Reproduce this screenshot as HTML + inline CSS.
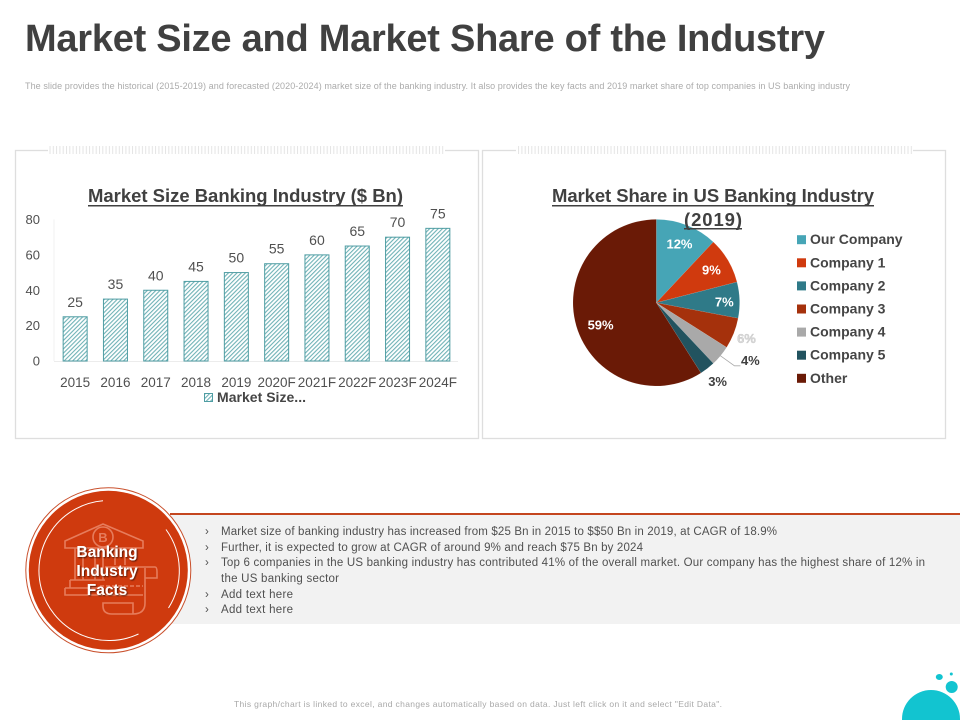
<!DOCTYPE html>
<html lang="en">
<head>
<meta charset="utf-8">
<title>Market Size and Market Share of the Industry</title>
<style>
html,body{margin:0;padding:0;background:#fff;width:960px;height:720px;overflow:hidden}
svg{display:block;position:absolute;left:0;top:0}
text{font-family:"Liberation Sans",sans-serif}
</style>
</head>
<body>
<svg id="slide" xmlns="http://www.w3.org/2000/svg" width="960" height="720" viewBox="0 0 960 720">
<defs>
<pattern id="hatch" patternUnits="userSpaceOnUse" width="3" height="3" patternTransform="rotate(-45)">
<rect width="3" height="3" fill="#fff"/>
<rect width="3" height="1.1" fill="#6fb2b6"/>
</pattern>
<pattern id="ticks" patternUnits="userSpaceOnUse" width="3.3" height="8">
<rect width="1" height="8" fill="#e4e4e4"/>
</pattern>
<filter id="shadow" x="-20%" y="-20%" width="140%" height="140%">
<feDropShadow dx="1" dy="1" stdDeviation="0.8" flood-color="#000" flood-opacity="0.6"/>
</filter>
</defs>

<text x="25" y="51" font-size="38" font-weight="700" fill="#404040" textLength="800">Market Size and Market Share of the Industry</text>
<text x="25" y="89" font-size="9" fill="#ababab" textLength="825">The slide provides the historical (2015-2019) and forecasted (2020-2024) market size of the banking industry. It also provides the key facts and 2019 market share of top companies in US banking industry</text>

<g>
<rect x="15.5" y="150.5" width="463" height="288" fill="#fff" stroke="#dedede" stroke-width="1.3"/>
<rect x="48" y="146" width="397" height="8" fill="#fff"/>
<rect x="48" y="146" width="397" height="8" fill="url(#ticks)"/>
</g>
<g>
<rect x="482.5" y="150.5" width="463" height="288" fill="#fff" stroke="#dedede" stroke-width="1.3"/>
<rect x="516" y="146" width="397" height="8" fill="#fff"/>
<rect x="516" y="146" width="397" height="8" fill="url(#ticks)"/>
</g>

<g id="bar-chart">
<text x="88" y="202" font-size="18.5" font-weight="700" fill="#404040" textLength="315">Market Size Banking Industry ($ Bn)</text>
<rect x="88" y="205" width="315" height="1.5" fill="#404040"/>
</g>

<g id="pie-chart"></g>
<g>
<text x="552" y="202" font-size="18.5" font-weight="700" fill="#404040" textLength="322">Market Share in US Banking Industry</text>
<rect x="552" y="205" width="322" height="1.5" fill="#404040"/>
<text x="684" y="226" font-size="18.5" font-weight="700" fill="#404040" textLength="58">(2019)</text>
<rect x="684" y="228" width="58" height="1.5" fill="#404040"/>
</g>

<g>
<rect x="170" y="515" width="790" height="109" fill="#f2f2f2"/>
<rect x="170" y="513" width="790" height="2" fill="#c4461f"/>
<g font-size="11.5" fill="#505050">
<text x="205" y="535">›</text>
<text x="221" y="535" textLength="556">Market size of banking industry has increased from $25 Bn in 2015 to $$50 Bn in 2019, at CAGR of 18.9%</text>
<text x="205" y="551">›</text>
<text x="221" y="551" textLength="422">Further, it is expected to grow at CAGR of around 9% and reach $75 Bn by 2024</text>
<text x="205" y="566">›</text>
<text x="221" y="566" textLength="704">Top 6 companies in the US banking industry has contributed 41% of the overall market. Our company has the highest share of 12% in</text>
<text x="221" y="582" textLength="118">the US banking sector</text>
<text x="205" y="598">›</text>
<text x="221" y="598" textLength="72">Add text here</text>
<text x="205" y="613">›</text>
<text x="221" y="613" textLength="72">Add text here</text>
</g>
</g>

<g>
<circle cx="108.3" cy="570.3" r="82.5" fill="#fff" stroke="#c9502c" stroke-width="1"/>
<circle cx="108.3" cy="570.3" r="79.5" fill="#cf3a0e"/>
<path d="M103 500.8 A70 70 0 1 0 138.5 634" fill="none" stroke="#fff" stroke-width="1"/>
<path d="M166 529.5 A70 70 0 0 1 168.5 608" fill="none" stroke="#fff" stroke-width="1"/>
<g fill="none" stroke="#e67c5c" stroke-width="1.6">
<path d="M65 541 L103 524 L143 541 L143 548 L65 548 Z"/>
<circle cx="103" cy="537" r="10"/>
<path d="M75 548 V580 M83 548 V580 M95 548 V580 M103 548 V580 M115 548 V565 M125 548 V565"/>
<path d="M70 580 H105 M70 580 V588 M65 588 H103 M65 588 V595 H103"/>
<path d="M105 567 H155 Q157 567 157 572 V578 H145 M145 568 V603 Q145 614 133 614 H112 Q103 614 103 606 V603 H133 Q133 610 133 614"/>
<path d="M100 586 H143" stroke-dasharray="4 2"/>
<path d="M105 595 H143"/>
<text x="103" y="542" font-size="13" font-weight="700" text-anchor="middle" fill="#e67c5c" stroke="none">B</text>
</g>
<g font-size="15.5" font-weight="700" fill="#fff" text-anchor="middle" filter="url(#shadow)">
<text x="107" y="557">Banking</text>
<text x="107" y="576">Industry</text>
<text x="107" y="595">Facts</text>
</g>
</g>

<text x="234" y="707" font-size="8.5" fill="#a8a8a8" textLength="488">This graph/chart is linked to excel, and changes automatically based on data. Just left click on it and select "Edit Data".</text>

<g fill="#12c4d0">
<circle cx="931" cy="719" r="29"/>
<circle cx="951.7" cy="687" r="6"/>
<ellipse cx="939.3" cy="677" rx="3.5" ry="3"/>
<circle cx="951.3" cy="674" r="1.5"/>
</g>
</svg>

<script>
const barCategories = ['2015','2016','2017','2018','2019','2020F','2021F','2022F','2023F','2024F'];
const barValues = [25,35,40,45,50,55,60,65,70,75];
const yTicks = [0,20,40,60,80];
const pieCategories = ['Our Company','Company 1','Company 2','Company 3','Company 4','Company 5','Other'];
const pieValues = [12,9,7,6,4,3,59];

const SVG_NS = 'http://www.w3.org/2000/svg';
function make(parent, tag, props, content) {
  const el = document.createElementNS(SVG_NS, tag);
  Object.keys(props).forEach(function (k) { el.setAttribute(k, props[k]); });
  if (content !== undefined) el.textContent = content;
  parent.appendChild(el);
  return el;
}

/* Bar chart */
const barGroup = document.getElementById('bar-chart');
const plotLeft = 55, plotRight = 458, plotBottom = 361, plotTop = 219.5, yMax = 80;
const bandWidth = (plotRight - plotLeft) / barCategories.length;
function xCenter(i) { return plotLeft + bandWidth * (i + 0.5); }
function yScale(v) { return plotBottom - (v / yMax) * (plotBottom - plotTop); }

const yAxisLine = make(barGroup, 'line', {x1: plotLeft - 1, x2: plotLeft - 1, y1: plotTop, y2: plotBottom, stroke: '#f0f0f0'});


const xAxisLine = make(barGroup, 'line', {x1: plotLeft - 1, x2: plotRight, y1: plotBottom + 0.5, y2: plotBottom + 0.5, stroke: '#ececec'});



yTicks.forEach(function (t) {
  const label = make(barGroup, 'text', {x: 40, y: yScale(t) + 4.5, 'font-size': 13, fill: '#505050', 'text-anchor': 'end'}, String(t));
  
  
});

barValues.forEach(function (v, i) {
  const y = yScale(v);
  const bar = make(barGroup, 'rect', {x: xCenter(i) - 12, y: y, width: 24, height: plotBottom - y, fill: 'url(#hatch)', stroke: '#4f9da3', 'stroke-width': 1});
  
  
  const value = make(barGroup, 'text', {x: xCenter(i), y: y - 10, 'font-size': 14, fill: '#505050', 'text-anchor': 'middle'}, String(v));
  
  
  const cat = make(barGroup, 'text', {x: xCenter(i), y: 387, 'font-size': 13.5, fill: '#505050', 'text-anchor': 'middle'}, barCategories[i]);
  
  
});

const barSwatch = make(barGroup, 'rect', {x: 204.5, y: 393.5, width: 8, height: 8, fill: 'url(#hatch)', stroke: '#4f9da3'});


const barLegend = make(barGroup, 'text', {x: 217, y: 402, 'font-size': 14, 'font-weight': 700, fill: '#454545', textLength: 89}, 'Market Size...');



/* Pie chart */
const pieGroup = document.getElementById('pie-chart');
const pieColors = ['#46a5b6','#d03a0e','#2f7a88','#a5310c','#a9a9a9','#22535f','#6a1a06'];
const cx = 656.3, cy = 302.7, radius = 83.3;
const total = pieValues.reduce(function (a, b) { return a + b; }, 0);
function pointAt(angle, r) {
  return [cx + r * Math.sin(angle), cy - r * Math.cos(angle)];
}
function labelStyle(i) {
  if (i === 3) return {r: 97, dx: 0, dy: 0, fill: '#d9d9d9', stroke: '#bbbbbb'};
  if (i === 4) return {r: 100, dx: 17, dy: -6, fill: '#404040'};
  if (i === 5) return {r: 100, dx: 0, dy: 0, fill: '#404040'};
  if (i === 6) return {r: 58, dx: 0, dy: 6, fill: '#ffffff'};
  if (i === 2) return {r: 68, dx: 0, dy: 1.5, fill: '#ffffff'};
  return {r: [63, 64][i], dx: 0, dy: 0, fill: '#ffffff'};
}
let cumulative = 0;
pieValues.forEach(function (v, i) {
  const a0 = cumulative / total * Math.PI * 2;
  cumulative += v;
  const a1 = cumulative / total * Math.PI * 2;
  const p0 = pointAt(a0, radius), p1 = pointAt(a1, radius);
  const large = (a1 - a0) > Math.PI ? 1 : 0;
  const d = 'M' + cx + ' ' + cy + ' L' + p0[0] + ' ' + p0[1] + ' A' + radius + ' ' + radius + ' 0 ' + large + ' 1 ' + p1[0] + ' ' + p1[1] + ' Z';
  const key = pieCategories[i].toLowerCase().replace(/\s+/g, '-');
  const slice = make(pieGroup, 'path', {d: d, fill: pieColors[i], stroke: 'rgba(255,255,255,0.15)', 'stroke-width': 0.5});
  
  

  const mid = (a0 + a1) / 2;
  const st = labelStyle(i);
  const lp = pointAt(mid, st.r);
  if (i === 4) {
    const e = pointAt(mid, radius);
    const leader = make(pieGroup, 'polyline', {points: e[0] + ',' + e[1] + ' ' + (e[0] + 14) + ',' + (e[1] + 10) + ' ' + (e[0] + 20) + ',' + (e[1] + 10), fill: 'none', stroke: '#aaaaaa', 'stroke-width': 0.8});
    
    
  }
  const props = {x: lp[0] + st.dx, y: lp[1] + st.dy + 4.5, 'font-size': 13, 'font-weight': 700, fill: st.fill, 'text-anchor': 'middle'};
  if (st.stroke) { props.stroke = st.stroke; props['stroke-width'] = 0.3; }
  const lab = make(pieGroup, 'text', props, v + '%');
  
  

  const ly = 239.7 + i * 23.1;
  const sw = make(pieGroup, 'rect', {x: 797, y: ly - 4.5, width: 9, height: 9, fill: pieColors[i]});
  
  
  const lt = make(pieGroup, 'text', {x: 810, y: ly + 4.5, 'font-size': 14, 'font-weight': 700, fill: '#454545'}, pieCategories[i]);
  
  
});
</script>
</body>
</html>
